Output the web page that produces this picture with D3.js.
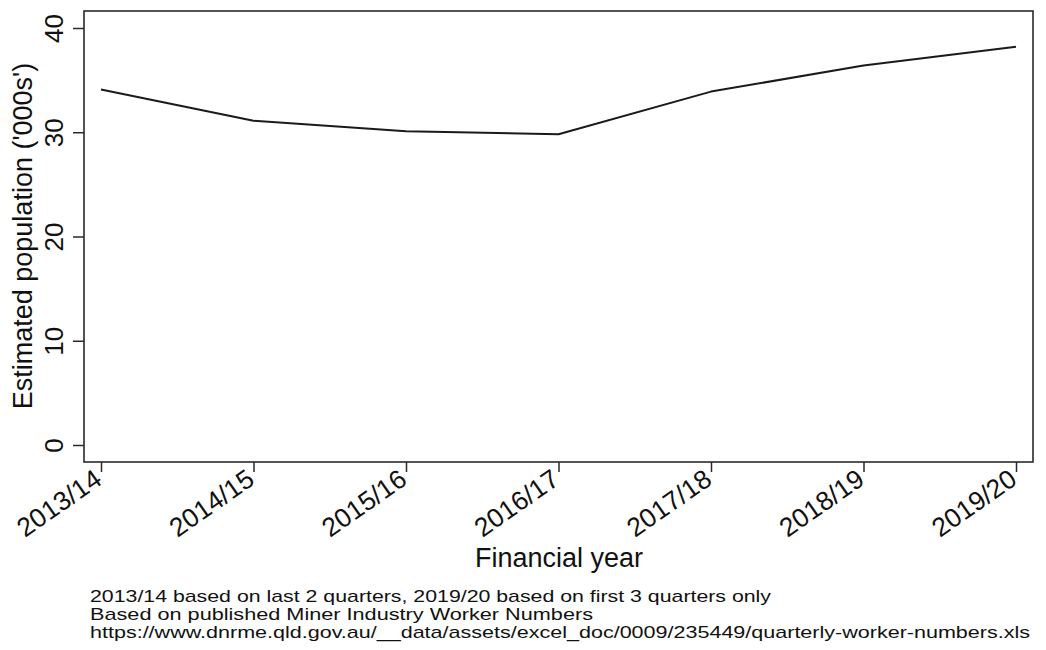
<!DOCTYPE html>
<html>
<head>
<meta charset="utf-8">
<script src="https://cdn.jsdelivr.net/npm/d3@7"></script>
<style>
  html, body { margin: 0; padding: 0; background: #fff; }
  svg { display: block; }
  text { font-family: "Liberation Sans", Arial, Helvetica, sans-serif; fill: #111; }
</style>
</head>
<body>
<svg id="chart" width="1046" height="650"></svg>
<script>
// Financial years on the x axis
const years = ["2013/14", "2014/15", "2015/16", "2016/17", "2017/18", "2018/19", "2019/20"];
// Estimated mining worker population, thousands
const population = [34.1, 31.1, 30.1, 29.8, 33.9, 36.4, 38.2];
// Y axis tick values
const yTicks = [0, 10, 20, 30, 40];
// Notes printed beneath the chart
const notes = [
  "2013/14 based on last 2 quarters, 2019/20 based on first 3 quarters only",
  "Based on published Miner Industry Worker Numbers",
  "https://www.dnrme.qld.gov.au/__data/assets/excel_doc/0009/235449/quarterly-worker-numbers.xls"
];
// printed width of each note line
const noteWidths = [681, 503, 940];

const svg = d3.select("#chart");
const frame = { left: 84, right: 1033, top: 11, bottom: 462 };

const x = d3.scalePoint().domain(years).range([101, 1016]);
const y = d3.scaleLinear().domain([0, 40]).range([445, 28]);

// plot region border
svg.append("rect")
  .attr("x", frame.left).attr("y", frame.top)
  .attr("width", frame.right - frame.left).attr("height", frame.bottom - frame.top)
  .attr("fill", "none").attr("stroke", "#2a2a2a").attr("stroke-width", 1.6);

// y axis: ticks outside the left edge, labels rotated
const yAxis = svg.append("g").attr("transform", `translate(${frame.left},0)`)
  .call(d3.axisLeft(y).tickValues(yTicks).tickSize(11).tickFormat(d3.format("d")));
yAxis.select(".domain").remove();
yAxis.selectAll(".tick line").attr("stroke", "#2a2a2a").attr("stroke-width", 1.5);
yAxis.selectAll(".tick text")
  .attr("x", null).attr("dy", null)
  .attr("transform", "translate(-21,0) rotate(-90)")
  .attr("text-anchor", "middle")
  .style("font-size", "26px");

// x axis: ticks below the bottom edge, labels slanted
const xAxis = svg.append("g").attr("transform", `translate(0,${frame.bottom})`)
  .call(d3.axisBottom(x).tickSize(10));
xAxis.select(".domain").remove();
xAxis.selectAll(".tick line").attr("stroke", "#2a2a2a").attr("stroke-width", 1.5);
xAxis.selectAll(".tick text")
  .attr("y", null).attr("dy", null)
  .attr("text-anchor", "end")
  .attr("transform", "translate(2,21) rotate(-35)")
  .style("font-size", "26.5px");

// series line
const line = d3.line().x((d, i) => x(years[i])).y(d => y(d));
svg.append("path")
  .datum(population)
  .attr("d", line)
  .attr("fill", "none")
  .attr("stroke", "#1a1a1a")
  .attr("stroke-width", 2)
  .attr("stroke-linejoin", "round");

// axis titles
svg.append("text")
  .attr("transform", "translate(32,236) rotate(-90)")
  .attr("text-anchor", "middle")
  .style("font-size", "27px")
  .text("Estimated population ('000s')");

svg.append("text")
  .attr("x", 559).attr("y", 567)
  .attr("text-anchor", "middle")
  .style("font-size", "27px")
  .text("Financial year");

// notes
svg.append("g").selectAll("text").data(notes).join("text")
  .attr("x", 90)
  .attr("y", (d, i) => 602 + i * 18)
  .attr("textLength", (d, i) => noteWidths[i])
  .attr("lengthAdjust", "spacingAndGlyphs")
  .style("font-size", "17px")
  .text(d => d);
</script>
</body>
</html>
